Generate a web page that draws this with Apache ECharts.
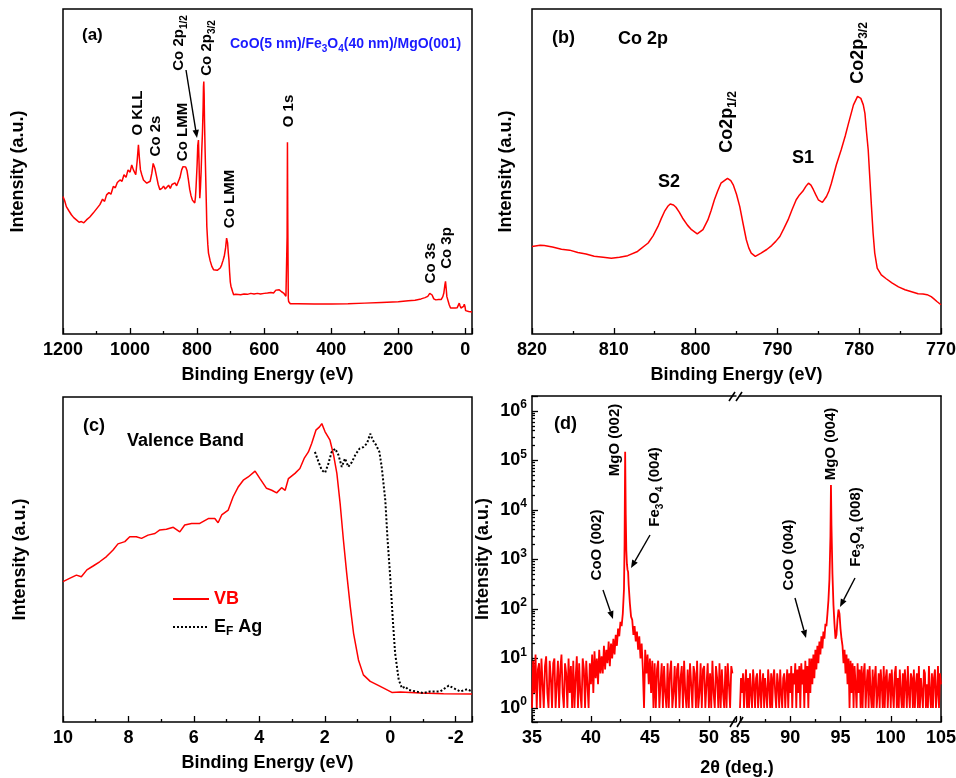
<!DOCTYPE html>
<html>
<head>
<meta charset="utf-8">
<script src="https://cdn.jsdelivr.net/npm/echarts@6/dist/echarts.min.js"></script>
<style>
html, body { margin: 0; padding: 0; background: #fff; }
#chart { width: 956px; height: 778px; }
</style>
</head>
<body>
<div id="chart"></div>
<script>
// (a) XPS survey: [binding energy (eV), intensity (a.u.)]
const surveyData = [
  [1200,42.3],[1195,41],[1190,39.2],[1183,38],[1175,36.7],[1168,35.8],[1160,35.1],[1152,34.4],[1145,34.6],[1138,34.2],
  [1130,35.1],[1120,36],[1110,37.2],[1100,38.5],[1090,39.8],[1082,41.5],[1076,40.8],[1070,42.8],[1063,43.5],[1057,43],
  [1050,45.4],[1044,45],[1038,46.6],[1030,47.4],[1024,47],[1018,49],[1012,48.2],[1006,50.5],[1000,49.8],[995,52.0],
  [990,50.5],[986,50.8],[983,49],[979,53],[975,58.2],[972,54],[969,50.5],[965,49],[960,47.4],[955,47.8],
  [950,46.4],[945,45.9],[940,47],[935,49.5],[931,52.5],[929,52.9],[926,51],[921,48.5],[916,46],[911,44.4],
  [905,44.8],[900,45.5],[895,44.6],[891,44.9],[885,45.8],[880,44.8],[875,46],[871,45.4],[866,46.5],[861,45.6],
  [856,46.9],[851,48.2],[846,50.5],[842,51.5],[838,52.0],[834,51.4],[830,50.2],[826,47.5],[822,44.5],[818,42.5],
  [814,41.2],[810,40.8],[807,40.3],[805,42],[803,45.4],[800,52],[798,58],[796,59.7],[794,52],[792,41.8],
  [790,45],[788,50],[786,56.7],[784,62],[782,70],[781,76],[780,77.7],[779,74],[778,66],[776,56],
  [774,47],[772,38],[771,33.1],[768,27.5],[766,24.9],[761,22.5],[756,20.8],[751,19.8],[746,19.3],[740,19.6],
  [735,20],[731,20.3],[727,21.2],[723,22.5],[719,23.9],[715,26.5],[712,29.5],[711,29.8],[709,28],[707,25],
  [705,22.8],[703,19],[701,16],[699,14.7],[697,14.5],[694,13],[691,12.1],[685,12.2],[680,12],[670,12.1],
  [660,12.3],[650,12.2],[640,12.5],[630,12.3],[620,12.5],[611,12.3],[600,12.5],[590,12.6],[580,12.8],[572,12.6],
  [565,13.5],[560,13],[555,13.6],[552,13.3],[548,13],[545,12.7],[542,12.6],[538,12],[535,11.6],[533,11.2],
  [531.5,30],[530.5,59.0],[529.5,35],[528,11],[527,10.0],[524,9.5],[522,9.3],[500,9.3],[450,9.2],[400,9.2],
  [350,9.3],[300,9.5],[250,9.7],[200,9.9],[170,10.2],[150,10.4],[132,10.8],[120,11.2],[112,11.6],[106,12.5],
  [102,13.1],[99,12],[94,10.8],[88,10.5],[80,10.6],[72,10.6],[67,11.5],[64,12.6],[61,15],[59,16.2],
  [57,14],[55,11.5],[52,11.1],[48,9],[44,8],[38,8],[30,8],[24,8.1],[21,8.8],[18,9.5],
  [16,8.8],[13,8],[11,7.8],[8,8.2],[5,8.5],[3,9.2],[1,8.5],[-1,7.2],[-4,7.0],[-10,6.9],[-20,6.8]
];

// (b) Co 2p core level
const co2pData = [
  [820,26.9],[819,27.3],[818.5,27.2],[817.5,26.8],[816.4,26.1],[815.4,25.8],[814.4,25.1],[813.4,24.6],[812.4,23.9],[811.3,23.6],
  [810.3,23.3],[809.3,23.6],[808.3,24.1],[807.1,25.4],[805.8,28.0],[805.2,30.2],[804.6,33.1],[804.2,35.5],[803.8,37.7],[803.4,39.3],
  [803.1,40.0],[802.7,39.7],[802.4,39.0],[802,37.5],[801.6,35.7],[801,33.5],[800.5,32.1],[799.8,30.8],[799.1,32.1],[798.5,35.1],
  [798.1,38],[797.7,41.3],[797.3,44],[796.9,46.4],[796.1,47.9],[795.7,47.2],[795.4,45.9],[795,43],[794.6,39.2],[794.2,34],
  [793.8,29.0],[793.5,26.5],[793.2,24.9],[792.7,23.9],[792.0,24.9],[791.3,26],[790.7,27.2],[790.2,28.5],[789.7,30.0],[789.2,32.5],
  [788.7,35.1],[788.2,38.3],[787.7,41.3],[787.3,42.8],[786.9,43.9],[786.5,45.5],[786.2,46.4],[785.9,45.8],[785.6,44.4],[785.3,42.8],
  [785.0,41.3],[784.5,40.5],[784.0,42.3],[783.7,44],[783.4,46.4],[782.8,52.0],[782.2,56.7],[781.7,61],[781.3,64.9],[780.7,70.5],
  [780.2,73.1],[779.8,72.5],[779.5,70.5],[779.3,67.9],[779.1,62],[778.9,56.7],[778.7,48],[778.5,39.2],[778.3,31],[778.1,24.9],
  [777.8,20.3],[777.3,18.2],[776.7,17],[776.0,15.7],[775.2,14.5],[774.4,13.6],[773.6,13],[772.8,12.4],[772.2,12.3],[771.7,12.1],
  [771.2,11.5],[770.9,10.9],[770.5,10],[770,9.0]
];

// (c) valence band and Ag Fermi edge
const vbData = [
  [10,43.2],[9.8,44.2],[9.59,45.2],[9.44,44.7],[9.27,46.8],[9.08,48.0],[8.88,49.3],[8.67,50.9],[8.47,52.9],[8.32,54.8],
  [8.11,55.5],[7.96,57.0],[7.76,57.0],[7.6,56.5],[7.4,57.5],[7.19,58.0],[7.04,59.1],[6.84,59.3],[6.63,59.9],[6.43,58.5],
  [6.28,60.6],[6.07,61.1],[5.82,61.1],[5.56,62.6],[5.36,62.6],[5.26,61.3],[5.15,63.7],[4.95,65.2],[4.8,69.3],[4.64,72.4],
  [4.49,74.4],[4.34,75.4],[4.13,77.2],[3.98,74.9],[3.78,71.9],[3.62,71.3],[3.47,70.5],[3.32,72.1],[3.21,71.3],[3.11,74.9],
  [2.91,76.5],[2.76,78.0],[2.63,81.1],[2.5,83.1],[2.4,85.7],[2.27,89.8],[2.16,90.8],[2.09,91.8],[1.99,89.3],[1.84,86.7],
  [1.73,82.1],[1.63,76.5],[1.53,67.2],[1.43,56.0],[1.33,45.8],[1.22,35.5],[1.12,27.3],[0.97,19.1],[0.82,14.5],[0.61,12.5],
  [0.41,11.5],[0.2,10.4],[-0.05,9.1],[-0.31,9.2],[-0.92,8.9],[-1.63,8.7],[-2.5,8.6]
];
const efData = [
  [2.3,83.1],[2.19,80.0],[2.09,77.5],[1.99,76.7],[1.89,79.5],[1.79,83.1],[1.68,84.1],[1.58,82.1],[1.48,78.5],[1.38,81.1],
  [1.28,78.5],[1.17,80.0],[1.07,82.1],[0.94,84.1],[0.82,84.6],[0.71,85.7],[0.61,88.7],[0.53,86.7],[0.43,85.2],[0.33,83.1],
  [0.26,78.5],[0.15,68.3],[0.08,56.0],[0.0,44.7],[-0.08,31.4],[-0.15,21.2],[-0.26,13.0],[-0.36,10.4],[-0.46,10.9],[-0.56,9.9],
  [-0.77,9.4],[-1.02,8.9],[-1.22,9.4],[-1.53,9.4],[-1.79,11.2],[-1.94,10.4],[-2.14,9.4],[-2.35,10.1],[-2.5,9.4]
];

// (d) XRD counts, 0.1 deg steps plus peak regions
const xrd1a = [ // 35.0 .. 42.5
  1,9,2,12,1,6,8,1,10,3, 1,7,11,2,1,9,4,1,8,10, 1,3,9,1,6,12,2,1,8,5, 1,10,2,7,1,9,1,4,11,1,
  8,2,1,10,6,1,9,3,1,8, 3,12,2,14,4,10,3,15,5,11, 5,18,6,15,8,22,7,20,10,25, 12,30,18,40,28,55
];
const xrdPeak1 = [[42.6,45],[42.7,80],[42.8,250],[42.85,2000],[42.9,150000],[42.95,8000],[43.0,1500],[43.05,800],[43.1,620],[43.15,560],[43.2,300],[43.3,130],[43.4,70]];
const xrd1b = [ // 43.5 .. 52.0
  60,30,45,22,35,15,28,10,20,6, 1,15,5,12,3,10,2,9,1,8, 1,6,9,1,3,8,1,7,2,1, 8,1,5,9,1,2,7,1,6,8,
  1,4,7,1,9,2,1,6,1,8, 3,1,7,5,1,9,1,2,8,1, 6,7,1,3,8,1,5,1,9,2, 1,7,4,1,8,1,6,2,1,7, 1,8,3,1,7,5
];
const xrd2a = [ // 85.0 .. 91.9
  1,4,2,5,1,3,6,1,4,1, 5,2,1,6,3,1,4,5,1,2, 6,1,3,5,1,4,2,1,6,3, 1,5,1,4,6,2,1,5,3,1,
  6,2,1,4,5,1,3,6,1,5, 2,7,1,5,3,8,1,6,2,7, 1,8,3,6,1,9,2,7,1,10
];
const xrd2b = [2,10,3,12,4,15,6,18,8,22,12,28,16,35,25,50,45,80,150]; // 92.0 .. 93.8
const xrdPeak2 = [[93.9,400],[94.0,3000],[94.05,32000],[94.1,5000],[94.2,500],[94.3,120],[94.4,50],[94.5,25],[94.6,30],[94.7,60],[94.8,97],[94.9,80],[95.0,40],[95.1,25]];
const xrd2c = [ // 95.2 .. 105.0
  18,8,15,5,12,3,10,1,9,2, 8,1,7,3,1,8,2,6,1,7, 1,5,8,1,3,6,1,7,2,1, 6,1,4,7,1,2,5,1,6,3,
  1,7,1,4,6,1,3,5,1,6, 2,1,5,7,1,4,1,6,2,1, 5,1,6,3,1,7,2,1,5,4, 1,6,1,3,5,1,7,1,4,2,
  1,6,5,1,3,1,7,2,1,5, 1,4,6,1,2,7,1,5,3
];

const FONT = '"Liberation Sans", Arial, Helvetica, sans-serif';
const RED = '#ff0000';

function seq(start, step, vals) {
  return vals.map((v, i) => [+(start + i * step).toFixed(2), v]);
}
const xrd1 = seq(35.0, 0.1, xrd1a).concat(xrdPeak1, seq(43.5, 0.1, xrd1b));
const xrd2 = seq(85.0, 0.1, xrd2a).concat(seq(92.0, 0.1, xrd2b), xrdPeak2, seq(95.2, 0.1, xrd2c));

const boldText = { fontFamily: FONT, fontSize: 18, fontWeight: 'bold', color: '#000' };
const tickStyle = { color: '#000', width: 1.3 };

function bottomAxis(grid, min, max, extra) {
  return Object.assign({
    gridIndex: grid, type: 'value', min: min, max: max, inverse: true,
    axisLine: { show: false },
    axisTick: { inside: true, length: 6, lineStyle: tickStyle },
    minorTick: { show: true, splitNumber: 2, length: 3, lineStyle: tickStyle },
    splitLine: { show: false },
    axisLabel: Object.assign({ margin: 7 }, boldText),
    nameLocation: 'middle', nameGap: 32, nameMoveOverlap: false,
    nameTextStyle: boldText,
    name: 'Binding Energy (eV)'
  }, extra);
}
function plainY(grid, gap) {
  return {
    gridIndex: grid, type: 'value', min: 0, max: 100,
    axisLine: { show: false }, axisTick: { show: false }, axisLabel: { show: false }, splitLine: { show: false },
    name: 'Intensity (a.u.)', nameLocation: 'middle', nameGap: gap, nameMoveOverlap: false, nameTextStyle: boldText
  };
}
const frameLine = { show: true, lineStyle: { color: '#000', width: 1.5 } };
function topAxis(grid, min, max) {
  return {
    gridIndex: grid, type: 'value', position: 'top', min: min, max: max,
    axisLine: frameLine, axisTick: { show: false }, axisLabel: { show: false }, splitLine: { show: false }
  };
}
function xrdX(grid, min, max) {
  return {
    gridIndex: grid, type: 'value', min: min, max: max, interval: 5,
    axisLine: frameLine,
    axisTick: { inside: true, length: 6, lineStyle: tickStyle },
    minorTick: { show: true, splitNumber: 2, length: 3, lineStyle: tickStyle },
    splitLine: { show: false },
    axisLabel: Object.assign({ margin: 7, formatter: v => (v % 5 === 0 ? String(v) : '') }, boldText)
  };
}
function logY(grid, pos, labels) {
  return {
    gridIndex: grid, type: 'log', logBase: 10, min: 0.52, max: 2e6, position: pos,
    axisLine: frameLine,
    axisTick: { show: labels, inside: true, length: 6, lineStyle: tickStyle },
    minorTick: { show: labels, splitNumber: 9, length: 3, lineStyle: tickStyle },
    splitLine: { show: false },
    axisLabel: {
      show: labels, margin: 5,
      formatter: v => {
        const e = Math.log10(v);
        if (Math.abs(e - Math.round(e)) > 1e-6) return '';
        return '{b|10}{s|' + Math.round(e) + '}';
      },
      rich: {
        b: { fontFamily: FONT, fontSize: 18, fontWeight: 'bold', color: '#000', lineHeight: 24 },
        s: { fontFamily: FONT, fontSize: 12, fontWeight: 'bold', color: '#000', lineHeight: 12, verticalAlign: 'top' }
      }
    },
    name: labels ? 'Intensity (a.u.)' : '', nameLocation: 'middle', nameGap: 40, nameMoveOverlap: false,
    nameTextStyle: boldText
  };
}

function richSet(size, color) {
  const base = { fontFamily: FONT, fontWeight: 'bold', fill: color, color: color };
  return {
    m: Object.assign({ fontSize: size, lineHeight: size + 6 }, base),
    s: Object.assign({ fontSize: Math.round(size * 0.68), lineHeight: Math.round(size * 0.7), verticalAlign: 'bottom' }, base)
  };
}
function label(text, x, y, size, opt) {
  opt = opt || {};
  const color = opt.color || '#000';
  const t = text.indexOf('{') === 0 ? text : '{m|' + text + '}';
  return {
    type: 'text', x: x, y: y, rotation: opt.rotate ? Math.PI / 2 : 0, silent: true,
    style: {
      text: t, rich: richSet(size, color),
      fontFamily: FONT, fontSize: size, fontWeight: 'bold', fill: color,
      align: opt.align || 'center', textAlign: opt.align || 'center',
      verticalAlign: 'middle', textVerticalAlign: 'middle'
    }
  };
}
function vlabel(text, x, y, size) { return label(text, x, y, size, { rotate: true }); }
function arrow(x1, y1, x2, y2) {
  const a = Math.atan2(y2 - y1, x2 - x1), L = 8, W = 3.2;
  const bx = x2 - L * Math.cos(a), by = y2 - L * Math.sin(a);
  return [
    { type: 'line', silent: true, shape: { x1: x1, y1: y1, x2: bx, y2: by }, style: { stroke: '#000', lineWidth: 1.4 } },
    { type: 'polygon', silent: true, shape: { points: [[x2, y2], [bx + W * Math.sin(a), by - W * Math.cos(a)], [bx - W * Math.sin(a), by + W * Math.cos(a)]] }, style: { fill: '#000' } }
  ];
}
function slash(x1, y1, x2, y2) {
  return { type: 'line', silent: true, shape: { x1: x1, y1: y1, x2: x2, y2: y2 }, style: { stroke: '#000', lineWidth: 1.6 } };
}

const elements = [
  label('(a)', 82, 35, 17, { align: 'left' }),
  label('{m|CoO(5 nm)/Fe}{s|3}{m|O}{s|4}{m|(40 nm)/MgO(001)}', 230, 44, 14, { align: 'left', color: '#1a1aff' }),
  vlabel('O KLL', 138, 113, 15),
  vlabel('Co 2s', 156, 136, 15),
  vlabel('Co LMM', 183, 132, 15),
  vlabel('{m|Co 2p}{s|1/2}', 179, 43, 15),
  vlabel('{m|Co 2p}{s|3/2}', 207, 48, 15),
  vlabel('O 1s', 289, 111, 15),
  vlabel('Co LMM', 230, 199, 15),
  vlabel('Co 3s', 431, 263, 15),
  vlabel('Co 3p', 447, 248, 15),
  ...arrow(186, 70, 197, 138),

  label('(b)', 552, 38, 18, { align: 'left' }),
  label('Co 2p', 618, 39, 18, { align: 'left' }),
  label('S2', 669, 182, 18),
  vlabel('{m|Co2p}{s|1/2}', 727, 122, 18),
  label('S1', 803, 158, 18),
  vlabel('{m|Co2p}{s|3/2}', 858, 53, 18),

  label('(c)', 83, 426, 18, { align: 'left' }),
  label('Valence Band', 127, 441, 18, { align: 'left' }),

  label('(d)', 554, 424, 18, { align: 'left' }),
  vlabel('MgO (002)', 615, 440, 15),
  vlabel('{m|Fe}{s|3}{m|O}{s|4}{m| (004)}', 655, 487, 15),
  vlabel('CoO (002)', 597, 545, 15),
  vlabel('MgO (004)', 831, 444, 15),
  vlabel('{m|Fe}{s|3}{m|O}{s|4}{m| (008)}', 856, 527, 15),
  vlabel('CoO (004)', 789, 555, 15),
  ...arrow(603, 590, 613, 619),
  ...arrow(650, 535, 631, 568),
  ...arrow(795, 598, 806, 638),
  ...arrow(855, 578, 840, 607),
  label('2\u03b8 (deg.)', 737, 768, 18),
  slash(729, 401, 735, 392), slash(736, 401, 742, 392),
  slash(730, 727, 736, 717), slash(737, 727, 743, 717)
];

const lineSeries = (name, data, xi, yi, style) => ({
  name: name, type: 'line', data: data, xAxisIndex: xi, yAxisIndex: yi,
  symbol: 'none', showSymbol: false, silent: true, animation: false,
  lineStyle: Object.assign({ color: RED, width: 1.5 }, style), itemStyle: { color: (style && style.color) || RED }
});

const chart = echarts.init(document.getElementById('chart'), null, { renderer: 'canvas' });
chart.setOption({
  backgroundColor: '#fff',
  animation: false,
  grid: [
    { left: 63, top: 9, width: 409, height: 325, show: true, borderColor: '#000', borderWidth: 1.5, outerBoundsMode: 'none', containLabel: false },
    { left: 532, top: 9, width: 409, height: 325, show: true, borderColor: '#000', borderWidth: 1.5, outerBoundsMode: 'none', containLabel: false },
    { left: 63, top: 397, width: 409, height: 325, show: true, borderColor: '#000', borderWidth: 1.5, outerBoundsMode: 'none', containLabel: false },
    { left: 532, top: 396, width: 204, height: 326, outerBoundsMode: 'none', containLabel: false },
    { left: 740, top: 396, width: 201, height: 326, outerBoundsMode: 'none', containLabel: false }
  ],
  xAxis: [
    bottomAxis(0, -20, 1200, { axisLabel: Object.assign({ margin: 7, formatter: v => (v % 200 === 0 ? String(v) : '') }, boldText) }),
    bottomAxis(1, 770, 820, { interval: 10 }),
    bottomAxis(2, -2.5, 10, { splitNumber: 6, axisLabel: Object.assign({ margin: 7, formatter: v => (v % 2 === 0 ? String(v) : '') }, boldText) }),
    xrdX(3, 35, 52.3),
    topAxis(3, 35, 52.3),
    xrdX(4, 85, 105),
    topAxis(4, 85, 105)
  ],
  yAxis: [
    plainY(0, 36),
    plainY(1, 17),
    plainY(2, 34),
    logY(3, 'left', true),
    logY(4, 'right', false)
  ],
  legend: {
    left: 167, top: 585, orient: 'vertical', itemWidth: 36, itemHeight: 12, itemGap: 10,
    selectedMode: false,
    itemStyle: { opacity: 0 },
    data: [{ name: 'VB' }, { name: 'EF Ag' }],
    formatter: n => (n === 'EF Ag' ? '{b|E}{s|F}{b| Ag}' : '{r|VB}'),
    textStyle: {
      fontFamily: FONT, fontSize: 18, fontWeight: 'bold', color: '#000',
      rich: {
        r: { fontFamily: FONT, fontSize: 18, fontWeight: 'bold', color: RED, lineHeight: 22 },
        b: { fontFamily: FONT, fontSize: 18, fontWeight: 'bold', color: '#000', lineHeight: 22 },
        s: { fontFamily: FONT, fontSize: 12, fontWeight: 'bold', color: '#000', lineHeight: 12, verticalAlign: 'bottom' }
      }
    }
  },
  series: [
    lineSeries('survey', surveyData, 0, 0),
    lineSeries('co2p', co2pData, 1, 1),
    lineSeries('VB', vbData, 2, 2),
    lineSeries('EF Ag', efData, 2, 2, { color: '#000', width: 2, type: [2, 2] }),
    lineSeries('xrd1', xrd1, 3, 3, { width: 1.8 }),
    lineSeries('xrd2', xrd2, 5, 4, { width: 1.8 })
  ],
  graphic: { elements: elements }
});
</script>
</body>
</html>
